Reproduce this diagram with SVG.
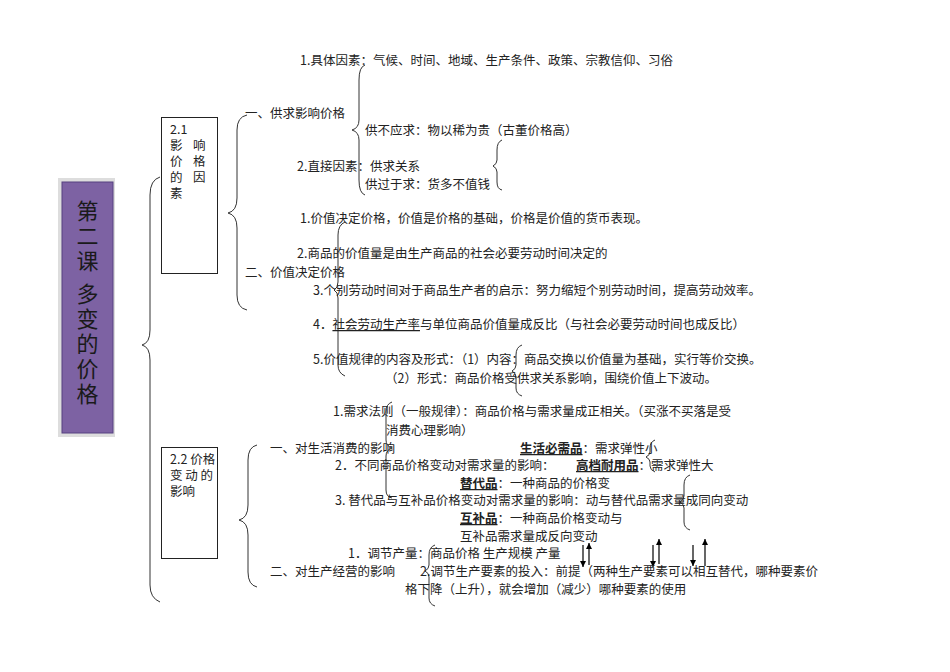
<svg xmlns="http://www.w3.org/2000/svg" width="950" height="672" viewBox="0 0 950 672">
<defs>
<marker id="ah" viewBox="0 0 10 10" refX="10" refY="5" markerWidth="5" markerHeight="5" orient="auto"><path d="M0,0 L10,5 L0,10 z" fill="#000"/></marker>
<style>
text{font-family:"Noto Sans CJK SC","Liberation Sans",sans-serif;font-size:12.5px;fill:#222}
.t{font-size:22px;fill:#1a1a1a;writing-mode:vertical-rl;letter-spacing:3px}
.b{font-weight:bold;text-decoration:underline}
.u{text-decoration:underline}
.br{fill:none;stroke:#333;stroke-width:1}
.ar{stroke:#000;stroke-width:1.2;marker-end:url(#ah)}
</style>
</defs>
<rect width="950" height="672" fill="#fff"/>
<g id="title">
<rect x="58" y="178" width="57" height="259" fill="#ddd"/>
<rect x="62" y="182" width="51" height="251" fill="#7d62a3" stroke="#564080"/>
<text class="t" x="87.5" y="200">第二课 多变的价格</text>
</g>
<g id="box21">
<rect x="161.5" y="117.5" width="56" height="156" fill="#fff" stroke="#222"/>
<text x="170" y="134">2.1</text>
<text x="170" y="150">影</text><text x="193" y="150">响</text>
<text x="170" y="166">价</text><text x="193" y="166">格</text>
<text x="170" y="182">的</text><text x="193" y="182">因</text>
<text x="170" y="198">素</text>
</g>
<g id="box22">
<rect x="161.5" y="447.5" width="56" height="111" fill="#fff" stroke="#222"/>
<text x="170" y="464">2.2 价格</text>
<text x="170" y="480">变 动 的</text>
<text x="170" y="496">影响</text>
</g>
<g id="connectors">
<path class="br" d="M160,177 Q150,180 150,195 L150,330 Q150,343 142,345 Q150,347 150,360 L150,585 Q150,598 160,602"/>
<path class="br" d="M247,115 Q237,117 237,130 L237,198 Q237,211 228,213 Q237,215 237,228 L237,295 Q237,308 247,310"/>
<path class="br" d="M257,445 Q248,447 248,460 L248,505 Q248,518 239,520 Q248,522 248,535 L248,572 Q248,585 257,587"/>
<path class="br" d="M365,65 Q359,67 359,80 L359,120 Q359,128 352,130 Q359,132 359,140 L359,180 Q359,193 365,195"/>
<path class="br" d="M502,140 Q497,142 497,150 L497,160 Q497,164 493,166 Q497,168 497,172 L497,182 Q497,189 502,190"/>
<path class="br" d="M345,222 Q338,225 338,235 L338,282 Q338,288 334,290 Q338,292 338,298 L338,365 Q338,373 345,376"/>
<path class="br" d="M522,345 Q516,347 516,355 L516,365 Q516,369 512,371 Q516,373 516,377 L516,388 Q516,394 522,396"/>
<path class="br" d="M392,402 Q386,404 386,412 L386,440 Q386,446 392,448 Q386,450 386,456 L386,490 Q386,497 392,498"/>
<path class="br" d="M655,440 Q650,442 650,448 L650,452 Q650,455 646,457 Q650,459 650,462 L650,466 Q650,470 655,472"/>
<path class="br" d="M690,475 Q684,477 684,485 L684,496 Q684,500 680,502 Q684,504 684,508 L684,522 Q684,528 690,530"/>
<path class="br" d="M435,545 Q429,547 429,555 L429,565 Q429,569 425,571 Q429,573 429,577 L429,598 Q429,604 435,606"/>
<line class="ar" x1="583" y1="545" x2="583" y2="567"/>
<line class="ar" x1="589" y1="565" x2="589" y2="543"/>
<line class="ar" x1="653" y1="545" x2="653" y2="567"/>
<line class="ar" x1="659" y1="564" x2="659" y2="539"/>
<line class="ar" x1="693" y1="545" x2="693" y2="566"/>
<line class="ar" x1="705" y1="566" x2="705" y2="539"/>
</g>
<g id="texts">
<text x="300" y="65">1.具体因素：气候、时间、地域、生产条件、政策、宗教信仰、习俗</text>
<text x="245" y="118">一、供求影响价格</text>
<text x="365" y="135">供不应求：物以稀为贵（古董价格高）</text>
<text x="297" y="171">2.直接因素：供求关系</text>
<text x="365" y="189">供过于求：货多不值钱</text>
<text x="300" y="223">1.价值决定价格，价值是价格的基础，价格是价值的货币表现。</text>
<text x="297" y="258">2.商品的价值量是由生产商品的社会必要劳动时间决定的</text>
<text x="245" y="277">二、价值决定价格</text>
<text x="313" y="295">3.个别劳动时间对于商品生产者的启示：努力缩短个别劳动时间，提高劳动效率。</text>
<text x="313" y="329">4．<tspan class="u">社会劳动生产率</tspan>与单位商品价值量成反比（与社会必要劳动时间也成反比）</text>
<text x="313" y="364">5.价值规律的内容及形式：（1）内容：商品交换以价值量为基础，实行等价交换。</text>
<text x="385" y="383">（2）形式：商品价格受供求关系影响，围绕价值上下波动。</text>
<text x="333" y="416">1.需求法则（一般规律）：商品价格与需求量成正相关。（买涨不买落是受</text>
<text x="386" y="435">消费心理影响）</text>
<text x="270" y="453">一、对生活消费的影响</text>
<text x="520" y="453"><tspan class="b">生活必需品</tspan>：需求弹性小</text>
<text x="335" y="470">2．不同商品价格变动对需求量的影响：</text>
<text x="576" y="470"><tspan class="b">高档耐用品</tspan>：需求弹性大</text>
<text x="460" y="488"><tspan class="b">替代品</tspan>：一种商品的价格变</text>
<text x="335" y="505">3. 替代品与互补品价格变动对需求量的影响：动与替代品需求量成同向变动</text>
<text x="460" y="523"><tspan class="b">互补品</tspan>：一种商品价格变动与</text>
<text x="460" y="541">互补品需求量成反向变动</text>
<text x="348" y="558">1．调节产量：商品价格 生产规模 产量</text>
<text x="270" y="576">二、对生产经营的影响</text>
<text x="420" y="576">2.调节生产要素的投入：前提（两种生产要素可以相互替代，哪种要素价</text>
<text x="405" y="594">格下降（上升），就会增加（减少）哪种要素的使用</text>
</g>
</svg>
